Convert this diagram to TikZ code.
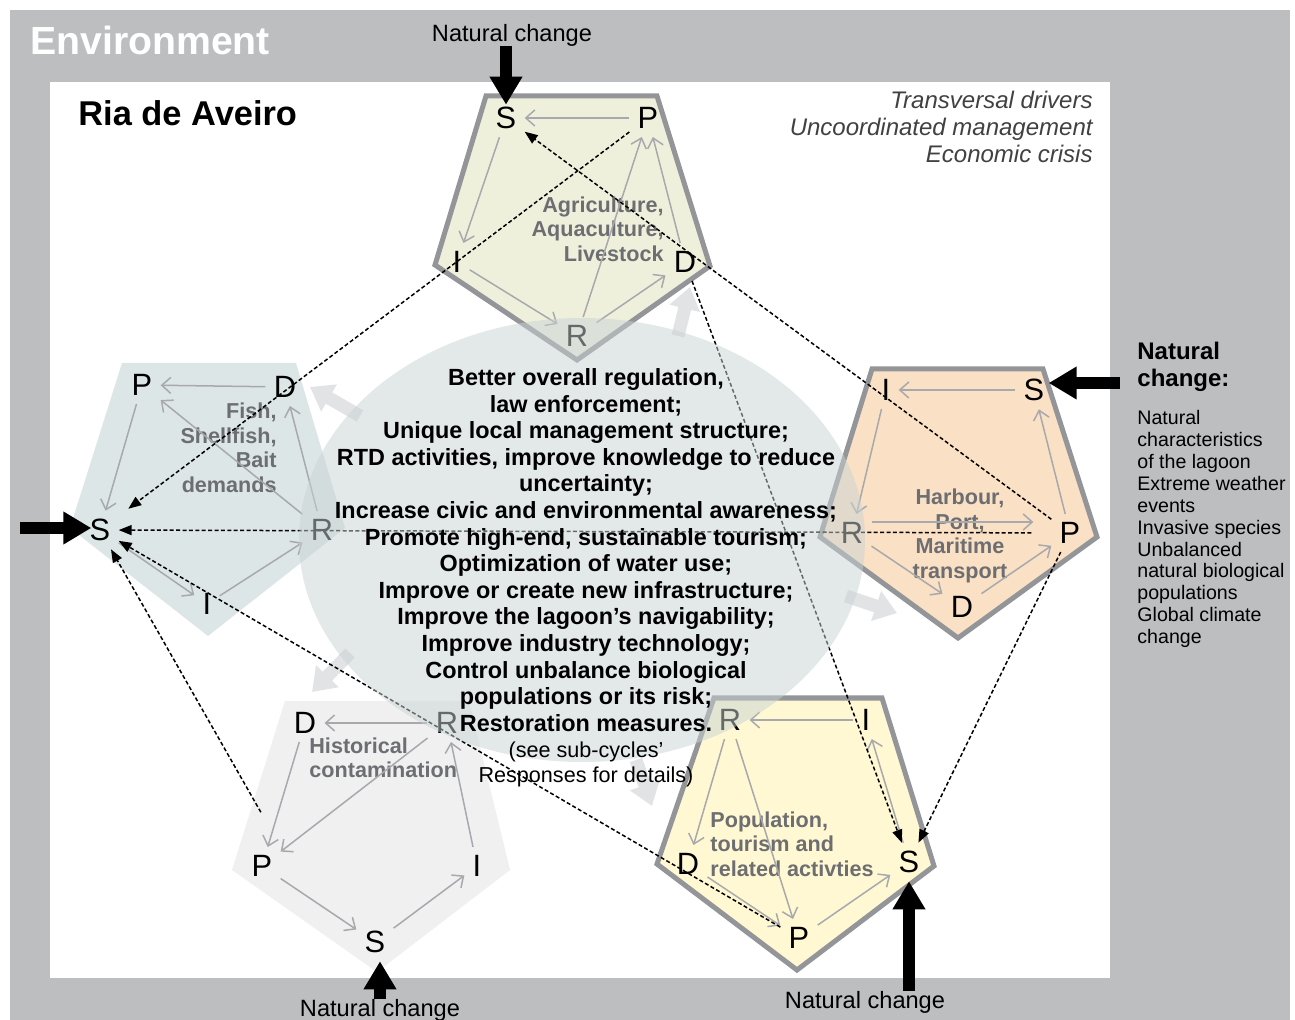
\documentclass[tikz,border=0pt]{standalone}
\usepackage{fontspec}
\setmainfont{Liberation Sans}
\usetikzlibrary{arrows.meta, positioning}
\definecolor{envgray}{RGB}{188,190,192}
\definecolor{outgray}{RGB}{147,149,152}
\definecolor{arrgray}{RGB}{167,169,172}
\definecolor{captgray}{RGB}{109,110,113}
\definecolor{widegray}{RGB}{226,227,229}
\definecolor{drvgray}{RGB}{65,64,66}
\definecolor{agfill}{RGB}{239,240,220}
\definecolor{fifill}{RGB}{221,230,230}
\definecolor{hafill}{RGB}{250,224,196}
\definecolor{pofill}{RGB}{255,248,210}
\definecolor{hifill}{RGB}{240,240,241}
\definecolor{ellfill}{RGB}{201,211,213}
\begin{document}
\begin{tikzpicture}[x=0.5pt, y=-0.5pt,
  lbl/.style={font=\fontsize{15.4}{18}\selectfont, inner sep=4pt},
  capt/.style={font=\bfseries\fontsize{10.8}{12.25}\selectfont, text=captgray, inner sep=0pt},
  ia/.style={arrgray, line width=0.75pt, -{Straight Barb[length=4.5pt,width=8pt]}},
  da/.style={black, line width=0.75pt, dash pattern=on 2pt off 1.2pt, -{Triangle[length=6.5pt,width=5pt]}},
  big/.style={black, line width=6pt, -{Triangle[length=14pt,width=15.5pt]}},
  wa/.style={widegray, line width=6.5pt, -{Triangle[length=11pt,width=15pt]}},
  pent/.style={draw=outgray, line width=2.5pt},
  nc/.style={font=\fontsize{11.8}{14}\selectfont, inner sep=0pt}]

\useasboundingbox (0,0) rectangle (1295,1020);
\fill[envgray] (10,10) rectangle (1290,1020);
\fill[white] (50,82) rectangle (1110,978);
\node[anchor=west, inner sep=0pt, text=white, font=\bfseries\fontsize{19.6}{22}\selectfont] (env) at (30,40) {Environment};
\node[anchor=west, inner sep=0pt, font=\bfseries\fontsize{17.2}{20}\selectfont] (ria) at (78,113) {Ria de Aveiro};
\node[anchor=north east, align=right, inner sep=0pt, text=drvgray, font=\itshape\fontsize{12}{13.5}\selectfont] (drivers) at (1093,91) {Transversal drivers\\Uncoordinated management\\Economic crisis};

\draw[wa] (360,416) -- (310,387);
\draw[wa] (678,336) -- (690,287);
\draw[wa] (846,596) -- (897,613);
\draw[wa] (350,653) -- (312,692);
\draw[wa] (636,760) -- (652,806);

\filldraw[pent, fill=agfill] (486,96) -- (657,96) -- (710,266) -- (577,360) -- (435,265) -- cycle;
\fill[fifill] (122,363) -- (296,363) -- (345,528) -- (208,636) -- (70,528) -- cycle;
\filldraw[pent, fill=hafill] (872,369) -- (1043,369) -- (1097,537) -- (958,638) -- (820,537) -- cycle;
\filldraw[pent, fill=pofill] (714,698) -- (882,698) -- (934,866) -- (797,970) -- (657,864) -- cycle;
\fill[hifill] (285,701) -- (469,701) -- (510,870) -- (377,972) -- (232,870) -- cycle;

\node[lbl] (agS) at (506,118) {S};
\node[lbl] (agP) at (648,118) {P};
\node[lbl] (agD) at (685,262) {D};
\node[lbl] (agR) at (577,336) {R};
\node[lbl] (agI) at (457,262) {I};
\node[capt, align=right, anchor=east] (agcap) at (664,229) {Agriculture,\\Aquaculture,\\Livestock};
\draw[ia] (agP) -- (agS);
\draw[ia] (agS) -- (agI);
\draw[ia] (agI) -- (agR);
\draw[ia] (agR) -- (agD);
\draw[ia] (agR) -- (agP);
\draw[ia] (agD) -- (agP);

\node[lbl] (fiP) at (142,385) {P};
\node[lbl] (fiD) at (285,387) {D};
\node[lbl] (fiR) at (322,530) {R};
\node[lbl] (fiI) at (207,604) {I};
\node[lbl] (fiS) at (100,530) {S};
\node[capt, align=right, anchor=east] (ficap) at (277,448) {Fish,\\Shellfish,\\Bait\\demands};
\draw[ia] (fiD) -- (fiP);
\draw[ia] (fiP) -- (fiS);
\draw[ia] (fiR) -- (fiP);
\draw[ia] (fiR) -- (fiD);
\draw[ia] (fiS) -- (fiI);
\draw[ia] (fiI) -- (fiR);

\node[lbl] (haI) at (886,390) {I};
\node[lbl] (haS) at (1034,390) {S};
\node[lbl] (haP) at (1070,533) {P};
\node[lbl] (haD) at (962,607) {D};
\node[lbl] (haR) at (852,533) {R};
\node[capt, align=center] (hacap) at (960,536) {Harbour,\\Port,\\Maritime\\transport};
\draw[ia] (haS) -- (haI);
\draw[ia] (haI) -- (haR);
\draw[ia, shorten >=9pt] ([yshift=5.5pt]haR.east) -- ([yshift=5.5pt]haP.west);
\draw[ia] (haR) -- (haD);
\draw[ia] (haD) -- (haP);
\draw[ia] (haP) -- (haS);

\node[lbl] (poR) at (730,720) {R};
\node[lbl] (poI) at (866,720) {I};
\node[lbl] (poS) at (909,862) {S};
\node[lbl] (poP) at (799,938) {P};
\node[lbl] (poD) at (688,864) {D};
\node[capt, align=left, anchor=west] (pocap) at (710,844) {Population,\\tourism and\\related activties};
\draw[ia] (poI) -- (poR);
\draw[ia] (poR) -- (poD);
\draw[ia] (poR) -- (poP);
\draw[ia] (poD) -- (poP);
\draw[ia] (poP) -- (poS);
\draw[ia] (poS) -- (poI);

\node[lbl] (hiD) at (305,723) {D};
\node[lbl] (hiR) at (447,723) {R};
\node[lbl] (hiI) at (477,866) {I};
\node[lbl] (hiS) at (375,942) {S};
\node[lbl] (hiP) at (262,866) {P};
\node[capt, align=left, anchor=west] (hicap) at (309,758) {Historical\\contamination};
\draw[ia] (hiR) -- (hiD);
\draw[ia] (hiD) -- (hiP);
\draw[ia] (hiR) -- (hiP);
\draw[ia] (hiI) -- (hiR);
\draw[ia] (hiP) -- (hiS);
\draw[ia] (hiS) -- (hiI);

\node[nc] (ncTop) at (512,35) {Natural change};
\node[nc] (ncBL) at (380,1010) {Natural change};
\node[nc] (ncBR) at (865,1002) {Natural change};
\coordinate (ncLeft) at (20,528);
\coordinate (ncRight) at (1120,383);
\draw[big, shorten >=-3pt] (ncTop.south -| agS) -- (agS.north);
\draw[big, shorten >=-5pt] (ncLeft) -- (ncLeft -| fiS.west);
\draw[big, shorten >=-2pt] (ncRight) -- (ncRight -| haS.east);
\draw[big] (ncBL.north) -- (ncBL.north |- hiS.south);
\draw[big] (ncBR.north -| poS) -- (poS.south);

\draw[da, shorten >=6pt] (agP) -- (fiS);
\draw[da] (haP) -- (agS);
\draw[da] (agD) -- (poS);
\draw[da] (haP) -- (poS);
\draw[da, shorten <=10pt] (haP) -- (fiS);
\draw[da] (poP) -- (fiS);
\draw[da, shorten <=20pt] (hiP.north east) -- (fiS);

\fill[ellfill, fill opacity=0.5] (582,540) ellipse [x radius=283, y radius=222];

\node[align=center, inner sep=0pt, font=\bfseries\fontsize{11.7}{13.3}\selectfont] (resp) at (586,550) {Better overall regulation,\\law enforcement;\\Unique local management structure;\\RTD activities, improve knowledge to reduce\\uncertainty;\\Increase civic and environmental awareness;\\Promote high-end, sustainable tourism;\\Optimization of water use;\\Improve or create new infrastructure;\\Improve the lagoon’s navigability;\\Improve industry technology;\\Control unbalance biological\\populations or its risk;\\Restoration measures.};
\node[align=center, inner sep=0pt, font=\fontsize{10.8}{12.5}\selectfont, below=5pt of resp] (seesub) {(see sub-cycles’\\Responses for details)};

\node[anchor=north west, align=left, inner sep=0pt, font=\bfseries\fontsize{12}{13.5}\selectfont] (nchead) at (1137,342) {Natural\\change:};
\node[anchor=north west, align=left, inner sep=0pt, font=\fontsize{9.8}{10.95}\selectfont] (nclist) at (1137,410) {Natural\\characteristics\\of the lagoon\\Extreme weather\\events\\Invasive species\\Unbalanced\\natural biological\\populations\\Global climate\\change};
\end{tikzpicture}
\end{document}
